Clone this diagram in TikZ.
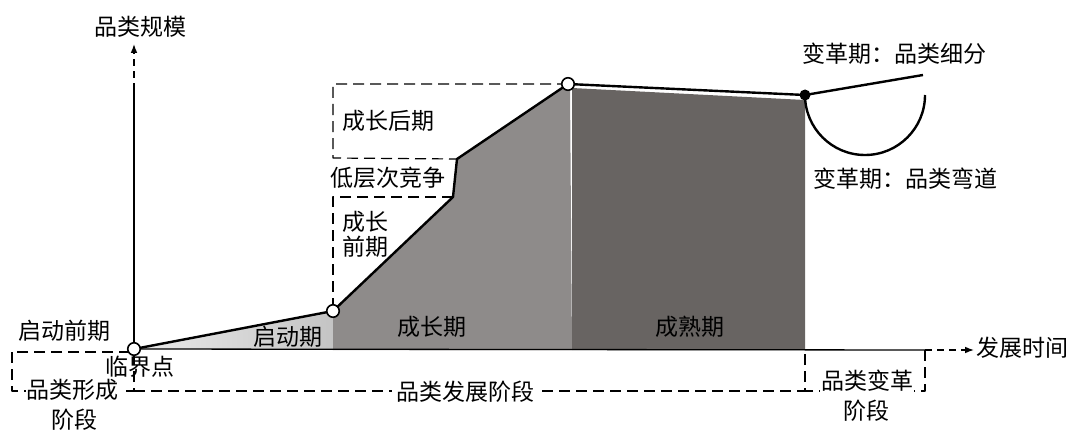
\documentclass[tikz,border=0pt]{standalone}
\usepackage{fontspec}
\setmainfont{Noto Sans CJK SC}
\usetikzlibrary{arrows.meta,positioning}

\definecolor{startgray}{RGB}{196,196,196}
\definecolor{growgray}{RGB}{142,139,138}
\definecolor{maturegray}{RGB}{104,100,98}

\begin{document}
\begin{tikzpicture}[>=Latex, line join=round, x=1pt, y=-1pt,
		lbl/.style={font=\fontsize{23}{25}\selectfont, inner sep=1pt},
		dsh/.style={line width=1.2pt, dash pattern=on 11pt off 6pt},
		curve/.style={line width=2.4pt},
		knot/.style={circle, draw, line width=1.6pt, fill=white, inner sep=0pt, minimum size=12.5pt}]
		
		\useasboundingbox (0,0) rectangle (1080,436);
		
		% key points of the curve
		\coordinate (O) at (134,349);
		\coordinate (P1) at (333,311);
		\coordinate (K1) at (453,197);
		\coordinate (K2) at (457,159);
		\coordinate (P3) at (568,84);
		\coordinate (D) at (805,95);
		\coordinate (Split) at (923,75);
		
		% filled stages
		\shade[left color=startgray!35, right color=startgray] (O) -- (P1) -- (333,350) -- cycle;
		\fill[growgray] (333,350) -- (P1) -- (K1) -- (K2) -- (P3) -- (570,88) -- (572,350) -- cycle;
		\fill[maturegray] (572,350) -- (572,88) -- (805,100) -- (805,350) -- cycle;
		
		% dashed boxes of the growth stage
		\draw[dsh] (P3) -- (333,84) -- (333,158) -- (K2);
		\draw[dsh] (K1) -- (333,197) -- (P1);
		
		% dashed boxes below the time axis
		\draw[dsh] (12,352) rectangle (134,391);
		\draw[dsh] (134,391) -- (805,391) -- (805,350);
		\draw[dsh] (925,350) -- (925,391) -- (805,391);
		
		% axes
		\coordinate (Ytop) at (134,44);
		\coordinate (Ybreak) at (134,90);
		\coordinate (Xend) at (925,350);
		\coordinate (Xtip) at (974,350);
		\draw[line width=1.3pt] (O) -- (Ybreak);
		\draw[line width=1.3pt, dash pattern=on 7pt off 5pt, ->] (Ybreak) -- (Ytop);
		\draw[line width=1.3pt] (O) -- (Xend);
		\draw[line width=1.3pt, dash pattern=on 7pt off 5pt, ->] (Xend) -- (Xtip);
		
		% the curve
		\draw[curve] (O) -- (P1) -- (K1) -- (K2) -- (P3) -- (D);
		\draw[curve] (D) -- (Split);
		\draw[curve] (D) arc[start angle=180, end angle=0, radius=60];
		
		% marked points
		\node[knot] (o) at (O) {};
		\node[knot] (p1) at (P1) {};
		\node[knot] (p3) at (P3) {};
		\fill (D) circle (5.5);
		
		% labels
		\node[lbl] (yl) at (140,27) {品类规模};
		\node[lbl] (xl) at (1022,348) {发展时间};
		\node[lbl] (pre) at (65,331) {启动前期};
		\node[lbl] (crit) at (140,367) {临界点};
		\node[lbl, fill=white] (form) at (73,390) {品类形成};
		\node[lbl] (form2) at (74,420) {阶段};
		\node[lbl, fill=white, inner xsep=4pt] (dev) at (465,392) {品类发展阶段};
		\node[lbl, fill=white] (chg) at (867,381) {品类变革};
		\node[lbl] (chg2) at (866,411) {阶段};
		
		\node[lbl] (start) at (288,337) {启动期};
		\node[lbl] (grow) at (432,327) {成长期};
		\node[lbl] (mature) at (690,327) {成熟期};
		
		\node[lbl] (late) at (388,121) {成长后期};
		\node[lbl] (low) at (388,178) {低层次竞争};
		\node[lbl, align=center] (early) at (365,234) {成长\\前期};
		
		\node[lbl] (fine) at (894,54) {变革期：品类细分};
		\node[lbl] (bend) at (905,179) {变革期：品类弯道};
		
	\end{tikzpicture}
\end{document}
